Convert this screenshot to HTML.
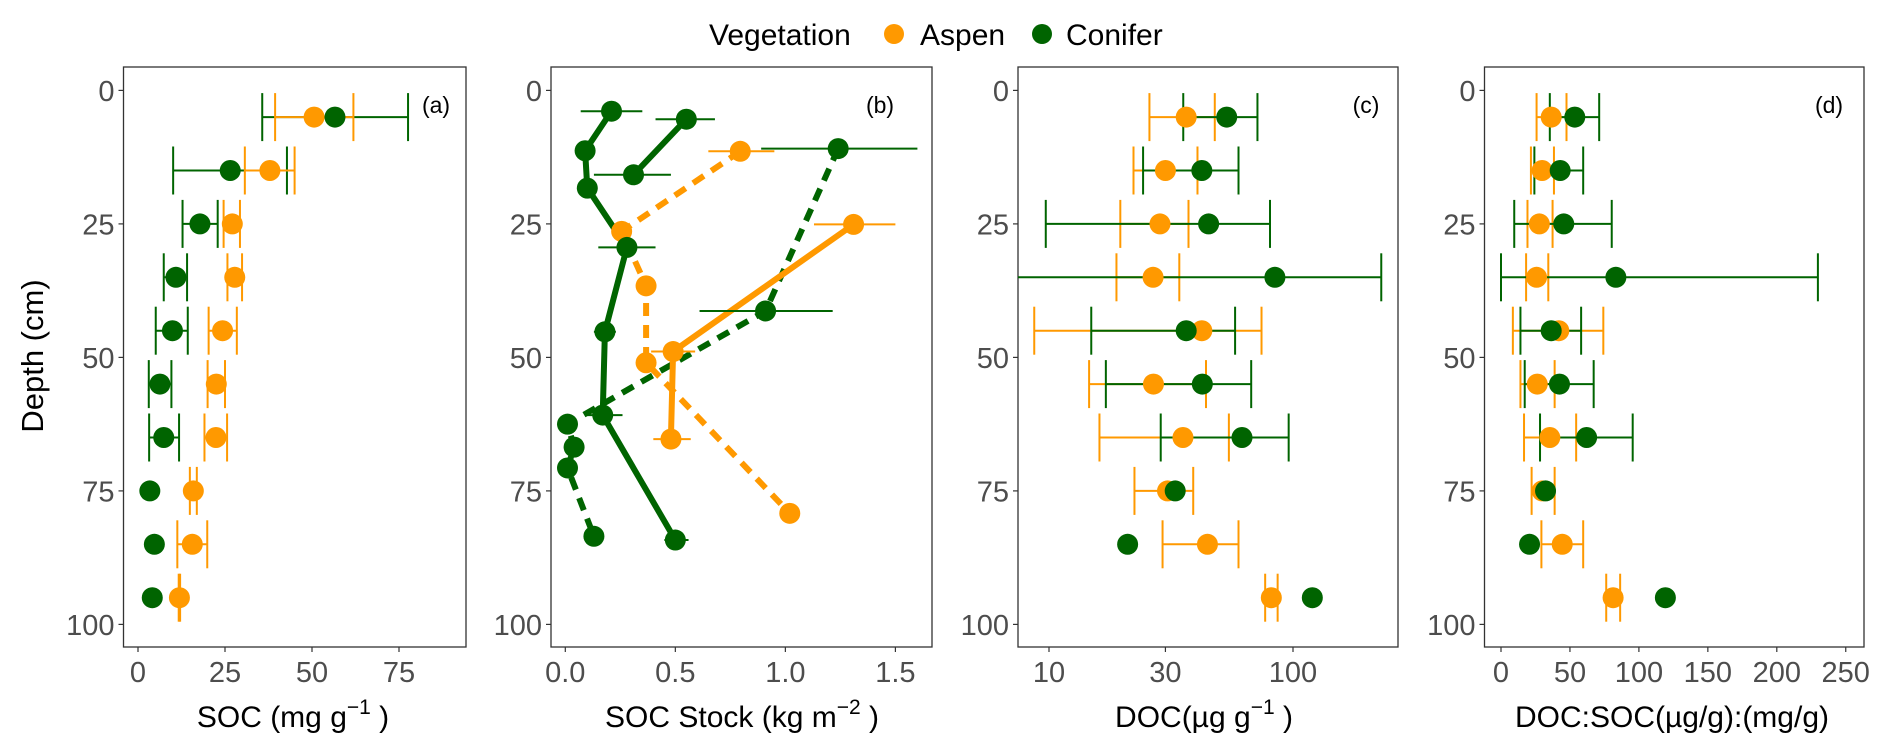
<!DOCTYPE html>
<html><head><meta charset="utf-8">
<style>
html,body{margin:0;padding:0;background:#fff;}
svg{display:block;font-family:"Liberation Sans",sans-serif;}
</style></head>
<body>
<svg id="chart" width="1892" height="754" viewBox="0 0 1892 754" xmlns="http://www.w3.org/2000/svg">
  <g>
    <text x="709" y="45" font-size="30" fill="#000">Vegetation</text>
    <circle cx="894" cy="34" r="10" fill="#FF9900"/>
    <text x="920" y="45" font-size="30" fill="#000">Aspen</text>
    <circle cx="1042" cy="34" r="10" fill="#006400"/>
    <text x="1066" y="45" font-size="30" fill="#000">Conifer</text>
  </g>
  <text transform="translate(43,356) rotate(-90)" text-anchor="middle" font-size="31" fill="#000">Depth (cm)</text>
</svg>
<script>
// ---------- data ----------
const depthTicks = [0, 25, 50, 75, 100];
const depths = [5, 15, 25, 35, 45, 55, 65, 75, 85, 95];

// Panel a: SOC (mg/g)
const aTicks = [0, 25, 50, 75];
const aAspen = [50.6, 37.9, 27.1, 27.8, 24.3, 22.5, 22.4, 15.9, 15.6, 11.9];
const aAspenLo = [39.4, 30.7, 24.6, 25.7, 20.3, 20.0, 19.1, 14.9, 11.3, 11.7];
const aAspenHi = [61.9, 45.0, 29.3, 29.9, 28.4, 25.0, 25.6, 16.9, 19.9, 12.1];
const aConifer = [56.6, 26.5, 17.8, 10.9, 9.9, 6.3, 7.4, 3.4, 4.7, 4.1];
const aConiferLo = [35.7, 10.1, 12.8, 7.4, 5.1, 3.1, 3.2, 3.4, 4.7, 4.1];
const aConiferHi = [77.6, 42.8, 22.9, 14.1, 14.3, 9.6, 11.8, 3.4, 4.7, 4.1];

// Panel b: SOC stock (kg/m2) - profiles
const bTicks = [0.0, 0.5, 1.0, 1.5];
const bTickLabels = ["0.0", "0.5", "1.0", "1.5"];
const bConA = [0.21, 0.09, 0.10, 0.28, 0.18, 0.17, 0.50];
const bConADepth = [3.9, 11.3, 18.3, 29.4, 45.2, 60.8, 84.2];
const bConALo = [0.07, 0.09, 0.10, 0.15, 0.13, 0.10, 0.45];
const bConAHi = [0.35, 0.09, 0.10, 0.41, 0.23, 0.26, 0.56];
const bConB = [0.55, 0.31];
const bConBDepth = [5.4, 15.8];
const bConBLo = [0.41, 0.13];
const bConBHi = [0.68, 0.48];
const bConDash = [1.24, 0.91, 0.01, 0.04, 0.01, 0.13];
const bConDashDepth = [10.9, 41.3, 62.5, 66.8, 70.7, 83.5];
const bConDashLo = [0.89, 0.61, 0.01, 0.04, 0.01, 0.13];
const bConDashHi = [1.60, 1.215, 0.01, 0.04, 0.01, 0.13];
const bAspSolid = [1.31, 0.49, 0.48];
const bAspSolidDepth = [25.1, 48.9, 65.3];
const bAspSolidLo = [1.13, 0.39, 0.40];
const bAspSolidHi = [1.50, 0.59, 0.57];
const bAspDash = [0.795, 0.256, 0.367, 0.367, 1.02];
const bAspDashDepth = [11.4, 26.4, 36.6, 51.0, 79.2];
const bAspDashLo = [0.65, 0.21, 0.367, 0.367, 1.02];
const bAspDashHi = [0.95, 0.30, 0.367, 0.367, 1.02];

// Panel c: DOC (ug/g), log scale
const cTicks = [10, 30, 100];
const cAspen = [36.5, 30.0, 28.5, 26.7, 42.3, 26.8, 35.4, 30.6, 44.6, 81.5];
const cAspenLo = [25.8, 22.2, 19.6, 18.9, 8.7, 14.6, 16.1, 22.4, 29.2, 76.9];
const cAspenHi = [47.8, 40.6, 37.3, 34.2, 74.3, 44.0, 54.6, 39.0, 59.8, 86.5];
const cConifer = [53.5, 42.3, 45.1, 84.3, 36.5, 42.5, 61.8, 32.9, 21.0, 120];
const cConiferLo = [35.5, 24.3, 9.7, 7.0, 14.9, 17.1, 28.7, 32.9, 21.0, 120];
const cConiferHi = [71.5, 59.8, 80.5, 230, 57.9, 67.4, 96.0, 32.9, 21.0, 120];

// Panel d: DOC:SOC
const dTicks = [0, 50, 100, 150, 200, 250];
const dAspen = [36.4, 29.8, 27.8, 25.8, 41.9, 26.3, 35.4, 29.8, 44.4, 81.3];
const dAspenLo = [25.8, 21.7, 19.2, 18.2, 8.6, 14.1, 16.7, 22.2, 29.3, 76.3];
const dAspenHi = [47.5, 38.4, 37.4, 34.3, 74.2, 38.9, 54.5, 38.9, 59.6, 86.4];
const dConifer = [53.5, 42.9, 45.5, 83.3, 36.4, 42.4, 62.1, 32.3, 20.7, 119.2];
const dConiferLo = [35.4, 24.2, 9.6, 0.0, 14.1, 17.2, 28.3, 32.3, 20.7, 119.2];
const dConiferHi = [71.2, 59.6, 80.3, 229.8, 58.1, 67.2, 95.5, 32.3, 20.7, 119.2];

// ---------- drawing ----------
const NS = "http://www.w3.org/2000/svg";
const svg = document.getElementById("chart");
const ASPEN = "#FF9900", CONIFER = "#006400";
const TOP = 67, BOTTOM = 647;
const yScale = d => 90.4 + d * 5.34;

function mk(tag, attrs, parent) {
  const e = document.createElementNS(NS, tag);
  for (const k in attrs) e.setAttribute(k, attrs[k]);
  (parent || svg).appendChild(e);
  return e;
}

function linScale(d0, d1, r0, r1) { return v => r0 + (v - d0) / (d1 - d0) * (r1 - r0); }
function logScale(d0, d1, r0, r1) { return v => r0 + (Math.log10(v) - Math.log10(d0)) / (Math.log10(d1) - Math.log10(d0)) * (r1 - r0); }

function panel(id, left, right, xs, ticks, tickLabels, letter, letterX) {
  const g = mk("g", {});
  
  
  const clipId = "clip-" + id;
  const cp = mk("clipPath", { id: clipId }, g);
  mk("rect", { x: left, y: TOP, width: right - left, height: BOTTOM - TOP }, cp);
  // y ticks
  depthTicks.forEach(t => {
    const y = yScale(t);
    const tl = mk("line", { x1: left - 5, x2: left, y1: y, y2: y, stroke: "#333", "stroke-width": 1.2 }, g);
    
    
    const tx = mk("text", { x: left - 9, y: y + 10.5, "text-anchor": "end", "font-size": 29, fill: "#4d4d4d" }, g);
    
    
    tx.textContent = String(t);
  });
  ticks.forEach((t, i) => {
    const x = xs(t);
    const tl = mk("line", { x1: x, x2: x, y1: BOTTOM, y2: BOTTOM + 5, stroke: "#333", "stroke-width": 1.2 }, g);
    
    
    const tx = mk("text", { x: x, y: 682, "text-anchor": "middle", "font-size": 29, fill: "#4d4d4d" }, g);
    
    
    tx.textContent = tickLabels ? tickLabels[i] : String(t);
  });
  const frame = mk("rect", { x: left, y: TOP, width: right - left, height: BOTTOM - TOP, fill: "none", stroke: "#333", "stroke-width": 1.3 }, g);
  
  
  const lt = mk("text", { x: letterX, y: 113, "text-anchor": "middle", "font-size": 23, fill: "#000" }, g);
  
  
  lt.textContent = letter;
  const inner = mk("g", { "clip-path": "url(#" + clipId + ")" }, g);
  
  
  return inner;
}

function errbars(g, xs, vals, lo, hi, dep, color, name) {
  vals.forEach((v, i) => {
    if (hi[i] - lo[i] < 0.0001) return;
    const y = yScale(dep[i]);
    const e = mk("g", { stroke: color, "stroke-width": 2, fill: "none" }, g);
    
    
    mk("line", { x1: xs(lo[i]), x2: xs(hi[i]), y1: y, y2: y }, e);
    mk("line", { x1: xs(lo[i]), x2: xs(lo[i]), y1: y - 24, y2: y + 24 }, e);
    mk("line", { x1: xs(hi[i]), x2: xs(hi[i]), y1: y - 24, y2: y + 24 }, e);
  });
}
function errbarsSmallCap(g, xs, vals, lo, hi, dep, color, name) {
  vals.forEach((v, i) => {
    if (hi[i] - lo[i] < 0.0001) return;
    const y = yScale(dep[i]);
    const e = mk("line", { x1: xs(lo[i]), x2: xs(hi[i]), y1: y, y2: y, stroke: color, "stroke-width": 2 }, g);
    
    
  });
}
function points(g, xs, vals, dep, color, name) {
  vals.forEach((v, i) => {
    const c = mk("circle", { cx: xs(v), cy: yScale(dep[i]), r: 10.5, fill: color }, g);
    
    
  });
}
function line(g, xs, vals, dep, color, dashed, name) {
  const pts = vals.map((v, i) => xs(v).toFixed(1) + "," + yScale(dep[i]).toFixed(1)).join(" ");
  const p = mk("polyline", { points: pts, fill: "none", stroke: color, "stroke-width": 6, "stroke-linejoin": "round" }, g);
  if (dashed) p.setAttribute("stroke-dasharray", "13 9");
  
  
}

// Panel a
const xa = linScale(0, 75, 138, 399);
const ga = panel("a", 123.5, 466, xa, aTicks, null, "(a)", 436);
errbars(ga, xa, aConifer, aConiferLo, aConiferHi, depths, CONIFER, "conifer");
errbars(ga, xa, aAspen, aAspenLo, aAspenHi, depths, ASPEN, "aspen");
points(ga, xa, aAspen, depths, ASPEN, "aspen");
points(ga, xa, aConifer, depths, CONIFER, "conifer");

// Panel b
const xb = linScale(0, 1.5, 565.3, 895.4);
const gb = panel("b", 551, 932, xb, bTicks, bTickLabels, "(b)", 880);
line(gb, xb, bConA, bConADepth, CONIFER, false, "conifer-solid-a");
line(gb, xb, bConB, bConBDepth, CONIFER, false, "conifer-solid-b");
line(gb, xb, bConDash, bConDashDepth, CONIFER, true, "conifer-dashed");
line(gb, xb, bAspSolid, bAspSolidDepth, ASPEN, false, "aspen-solid");
line(gb, xb, bAspDash, bAspDashDepth, ASPEN, true, "aspen-dashed");
errbarsSmallCap(gb, xb, bConA, bConALo, bConAHi, bConADepth, CONIFER, "conifer");
errbarsSmallCap(gb, xb, bConB, bConBLo, bConBHi, bConBDepth, CONIFER, "conifer");
errbarsSmallCap(gb, xb, bConDash, bConDashLo, bConDashHi, bConDashDepth, CONIFER, "conifer");
errbarsSmallCap(gb, xb, bAspSolid, bAspSolidLo, bAspSolidHi, bAspSolidDepth, ASPEN, "aspen");
errbarsSmallCap(gb, xb, bAspDash, bAspDashLo, bAspDashHi, bAspDashDepth, ASPEN, "aspen");
points(gb, xb, bAspSolid, bAspSolidDepth, ASPEN, "aspen");
points(gb, xb, bAspDash, bAspDashDepth, ASPEN, "aspen");
points(gb, xb, bConA, bConADepth, CONIFER, "conifer");
points(gb, xb, bConB, bConBDepth, CONIFER, "conifer");
points(gb, xb, bConDash, bConDashDepth, CONIFER, "conifer");

// Panel c
const xc = logScale(10, 100, 1049, 1293);
const gc = panel("c", 1018, 1398, xc, cTicks, null, "(c)", 1366);
errbars(gc, xc, cAspen, cAspenLo, cAspenHi, depths, ASPEN, "aspen");
errbars(gc, xc, cConifer, cConiferLo, cConiferHi, depths, CONIFER, "conifer");
points(gc, xc, cAspen, depths, ASPEN, "aspen");
points(gc, xc, cConifer, depths, CONIFER, "conifer");

// Panel d
const xd = linScale(0, 250, 1501, 1501 + 250 * 1.379);
const gd = panel("d", 1484.5, 1864, xd, dTicks, null, "(d)", 1829);
errbars(gd, xd, dAspen, dAspenLo, dAspenHi, depths, ASPEN, "aspen");
errbars(gd, xd, dConifer, dConiferLo, dConiferHi, depths, CONIFER, "conifer");
points(gd, xd, dAspen, depths, ASPEN, "aspen");
points(gd, xd, dConifer, depths, CONIFER, "conifer");

// x-axis titles
function xTitle(x, name, parts) {
  const t = mk("text", { x: x, y: 727, "text-anchor": "middle", "font-size": 30, fill: "#000" });
  
  
  parts.forEach(p => {
    const s = mk("tspan", p.sup ? { "font-size": 21, dy: -13 } : (p.down ? { dy: 13 } : {}), t);
    s.textContent = p.t;
  });
}
xTitle(293, "x-axis-title-soc", [{ t: "SOC (mg g" }, { t: "−1", sup: true }, { t: " )", down: true }]);
xTitle(742, "x-axis-title-soc-stock", [{ t: "SOC Stock (kg m" }, { t: "−2", sup: true }, { t: " )", down: true }]);
xTitle(1204, "x-axis-title-doc", [{ t: "DOC(µg g" }, { t: "−1", sup: true }, { t: " )", down: true }]);
xTitle(1672, "x-axis-title-doc-soc", [{ t: "DOC:SOC(µg/g):(mg/g)" }]);
</script>
</body></html>
